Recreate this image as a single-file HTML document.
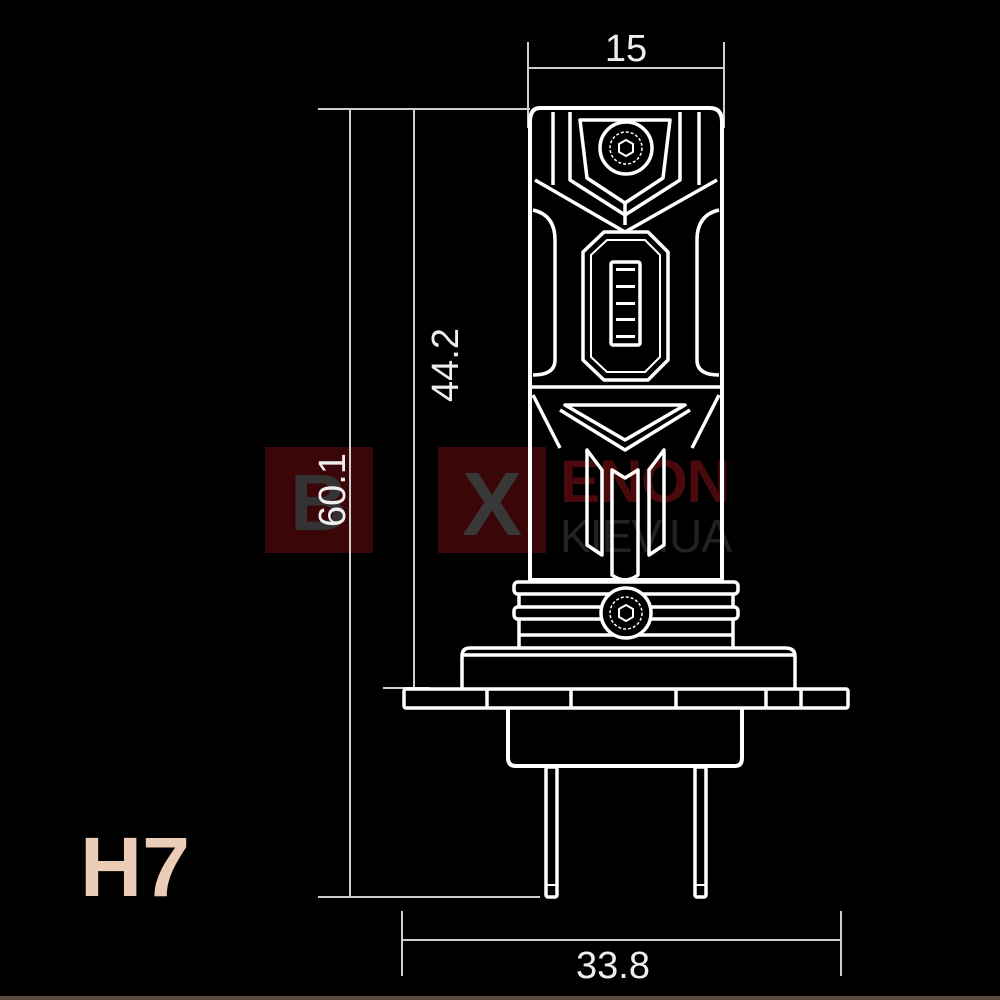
<!DOCTYPE html>
<html><head><meta charset="utf-8"><style>
html,body{margin:0;padding:0;background:#000;}
svg{display:block}
</style></head><body>
<svg width="1000" height="1000" viewBox="0 0 1000 1000" xmlns="http://www.w3.org/2000/svg">
<rect width="1000" height="1000" fill="#000"/>
<rect x="0" y="996" width="1000" height="4" fill="#5a4a40"/>
<!-- watermark -->
<rect x="265" y="447" width="108" height="106" fill="#3a0608"/>
<rect x="438" y="447" width="108" height="106" fill="#3a0608"/>
<text x="319" y="530" font-family="Liberation Sans, sans-serif" font-weight="bold" font-size="80" fill="#333" text-anchor="middle">B</text>
<text x="492" y="535" font-family="Liberation Sans, sans-serif" font-weight="bold" font-size="90" fill="#383838" text-anchor="middle">X</text>
<text x="560" y="502" font-family="Liberation Sans, sans-serif" font-weight="bold" font-size="60" fill="#4a0a0c" textLength="170">ENON</text>
<text x="560" y="552" font-family="Liberation Sans, sans-serif" font-size="46" fill="#222" textLength="172">KIEV.UA</text>
<!-- dims -->
<g stroke="#cfcfcf" stroke-width="2" fill="none">
<line x1="528" y1="42" x2="528" y2="128"/>
<line x1="724" y1="42" x2="724" y2="128"/>
<line x1="528" y1="68" x2="724" y2="68"/>
<line x1="318" y1="109" x2="530" y2="109"/>
<line x1="350" y1="109" x2="350" y2="897"/>
<line x1="414" y1="109" x2="414" y2="688"/>
<line x1="383" y1="688" x2="430" y2="688"/>
<line x1="318" y1="897" x2="540" y2="897"/>
<line x1="402" y1="911" x2="402" y2="976"/>
<line x1="841" y1="911" x2="841" y2="976"/>
<line x1="402" y1="940" x2="841" y2="940"/>
</g>
<g font-family="Liberation Sans, sans-serif" font-size="38" fill="#eee" text-anchor="middle">
<text x="626" y="61">15</text>
<text x="613" y="978">33.8</text>
<text transform="translate(345,490) rotate(-90)">60.1</text>
<text transform="translate(458,365) rotate(-90)">44.2</text>
</g>
<text x="80" y="896" font-family="Liberation Sans, sans-serif" font-weight="bold" font-size="84" fill="#ebcdb7" textLength="110" lengthAdjust="spacingAndGlyphs">H7</text>
<!-- bulb -->
<g stroke="#fff" stroke-width="3.5" fill="none" stroke-linejoin="round">
<path d="M540 108 H710 Q722 108 722 122 V580 H530 V122 Q530 108 540 108 Z" stroke-width="4"/>
<line x1="553" y1="112" x2="553" y2="185"/>
<line x1="699" y1="112" x2="699" y2="185"/>
<path d="M570 112 V180 L625 215 L680 180 V112"/>
<path d="M580 120 H670 L663 178 L625 203 L587 178 Z"/>
<line x1="625" y1="203" x2="625" y2="225"/>
<path d="M535 180 L625 232 L717 180"/>
<circle cx="626" cy="148" r="26"/>
<circle cx="626" cy="148" r="16" stroke-width="1.5" stroke-dasharray="3 2"/>
<path d="M626 140 l7 4 v8 l-7 4 l-7 -4 v-8 Z" stroke-width="2"/>
<path d="M533 210 Q555 215 555 240 V360 Q555 375 533 375"/>
<path d="M719 210 Q697 215 697 240 V360 Q697 375 719 375"/>
<path d="M604 232 H648 L668 252 V360 L648 380 H604 L583 360 V252 Z"/>
<path d="M607 240 H645 L660 255 V357 L645 372 H607 L591 357 V255 Z" stroke-width="2"/>
<rect x="611" y="262" width="29" height="83" rx="2"/>
<g fill="#fff" stroke="none"><rect x="616" y="268" width="19" height="3"/><rect x="616" y="285" width="19" height="3"/><rect x="616" y="302" width="19" height="3"/><rect x="616" y="318" width="19" height="3"/><rect x="616" y="335" width="19" height="3"/></g>
<line x1="530" y1="387" x2="722" y2="387"/>
<path d="M533 395 L560 448 M719 395 L692 448"/>
<path d="M565 405 L625 440 L685 405 H565 Z"/>
<path d="M560 410 L625 450 L690 410"/>
<path d="M587 450 V545 L602 555 V470 Z M664 450 V545 L649 555 V470 Z"/>
<path d="M612 470 L625 478 L638 470 V575 Q625 585 612 575 Z"/>
<rect x="514" y="582" width="224" height="12" rx="4"/>
<rect x="514" y="607" width="224" height="12" rx="4"/>
<line x1="519" y1="594" x2="519" y2="607"/><line x1="733" y1="594" x2="733" y2="607"/>
<line x1="519" y1="619" x2="519" y2="648"/><line x1="733" y1="619" x2="733" y2="648"/>
<line x1="519" y1="635" x2="733" y2="635"/>
<circle cx="626" cy="613" r="25" fill="#000"/>
<circle cx="626" cy="613" r="16" stroke-width="1.5" stroke-dasharray="3 2"/>
<path d="M626 605 l7 4 v8 l-7 4 l-7 -4 v-8 Z" stroke-width="2"/>
<path d="M462 688 V656 Q462 648 470 648 H785 Q795 648 795 656 V688"/>
<line x1="462" y1="655" x2="795" y2="655"/>
<rect x="404" y="689" width="444" height="19" rx="2"/>
<line x1="487" y1="689" x2="487" y2="708"/><line x1="571" y1="689" x2="571" y2="708"/><line x1="676" y1="689" x2="676" y2="708"/><line x1="766" y1="689" x2="766" y2="708"/><line x1="801" y1="689" x2="801" y2="708"/>
<path d="M508 708 V758 Q508 766 516 766 H735 Q742 766 742 758 V708" stroke-width="4"/>
<rect x="546" y="767" width="11" height="130" rx="2"/>
<rect x="695" y="767" width="11" height="130" rx="2"/>
<line x1="546" y1="885" x2="557" y2="885" stroke-width="2"/>
<line x1="695" y1="885" x2="706" y2="885" stroke-width="2"/>
</g>
</svg>
</body></html>
